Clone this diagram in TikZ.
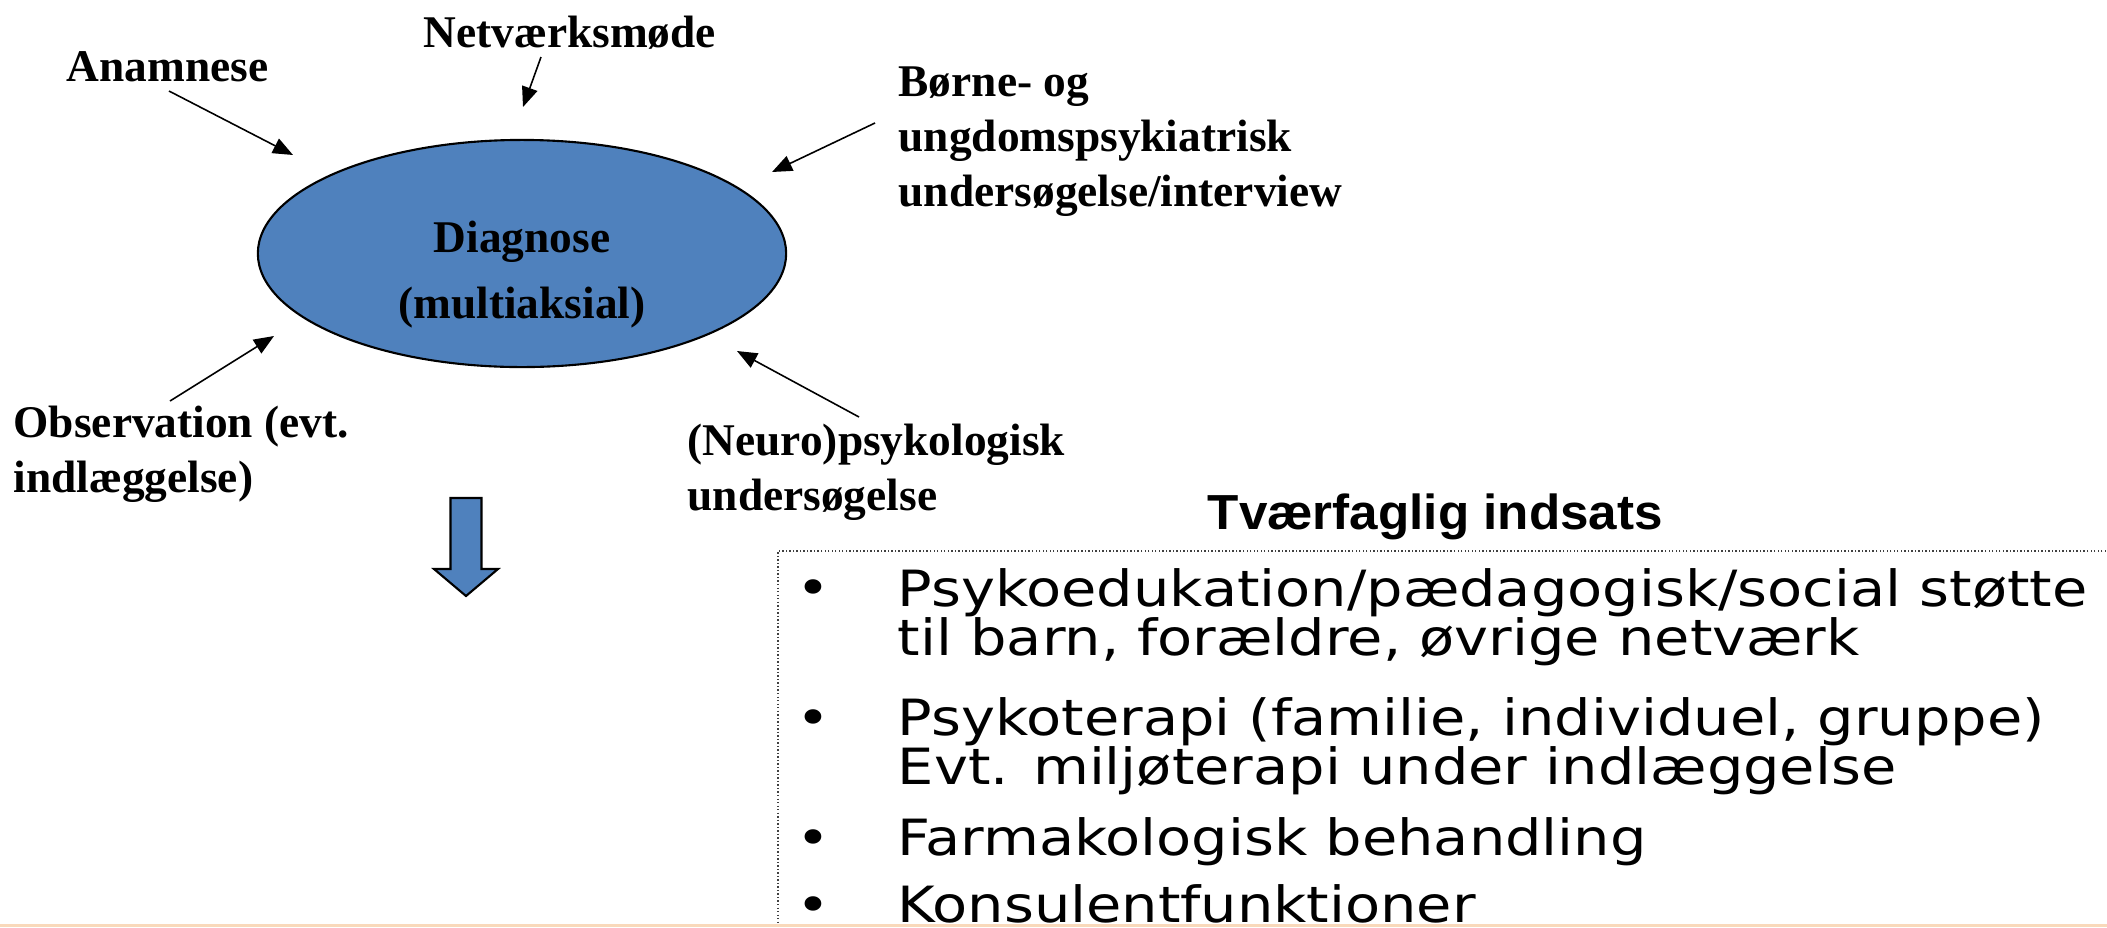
\documentclass[tikz,border=0pt]{standalone}
\usepackage{fontspec}
\setmainfont{Liberation Serif}
\newfontfamily\headfont[FakeStretch=1.04]{Liberation Sans}
\newfontfamily\listfont[FakeStretch=1.15]{DejaVu Sans}
\usetikzlibrary{arrows.meta,shapes.geometric}
\definecolor{DiagBlue}{HTML}{4F81BD}
\definecolor{Peach}{HTML}{F9D9BB}
\newcommand\listtype{\listfont\fontsize{14.2}{13.9}\selectfont\lineskiplimit=-20pt\relax}
\tikzset{
  lbl/.style={anchor=base west, inner sep=0pt, align=left,
              font=\bfseries\fontsize{12.9}{15.6}\selectfont},
  inarr/.style={-{Triangle[length=2mm,width=1.6mm]}, line width=0.45pt},
  listitem/.style={anchor=base west, inner sep=0pt, align=left, font=\listtype}
}
\begin{document}
\begin{tikzpicture}[x=0.01cm, y=-0.01cm,
  diagnode/.style={draw=black, line width=0.6pt, fill=DiagBlue, ellipse, inner sep=0pt,
                   minimum width=5.28cm, minimum height=2.27cm},
  diagtext/.style={anchor=base, inner sep=0pt, align=center,
                   font=\bfseries\fontsize{12.9}{18.5}\selectfont},
  blockarr/.style={draw=black, line width=0.6pt, fill=DiagBlue},
  head/.style={anchor=base west, inner sep=0pt, font=\headfont\bfseries\fontsize{14}{16}\selectfont},
  bul/.style={anchor=base, inner sep=0pt, font=\listfont\fontsize{14.2}{14}\selectfont},
  boxline/.style={draw=black!75, line width=0.4pt, dash pattern=on 0.4pt off 0.6pt}]
\useasboundingbox (0,0) rectangle (2107,927);
\clip (0,0) rectangle (2107,927);
% diagnose (base = last line)
\node[diagnode] (diag) at (522,253.5) {};
\node[diagtext] (diagtxt) at (522,318) {Diagnose\\(multiaksial)};
% kilder
\node[lbl] (anam) at (66,81) {Anamnese};
\node[lbl] (netv) at (423,47) {Netværksmøde};
\node[lbl] (boern) at (898,206) {Børne- og\\ungdomspsykiatrisk\\undersøgelse/interview};
\node[lbl] (obs) at (13,492) {Observation (evt.\\indlæggelse)};
\node[lbl] (neuro) at (687,510) {(Neuro)psykologisk\\undersøgelse};
\coordinate (anamS) at (169,91);
\coordinate (anamE) at (293,155);
\coordinate (netvS) at (541,57);
\coordinate (netvE) at (523,107);
\coordinate (boernS) at (875,123);
\coordinate (boernE) at (772,172);
\coordinate (obsS) at (170,401);
\coordinate (obsE) at (274,336);
\coordinate (neuroS) at (859,417);
\coordinate (neuroE) at (737,351);
\draw[inarr] (anamS) -- (anamE);
\draw[inarr] (netvS) -- (netvE);
\draw[inarr] (boernS) -- (boernE);
\draw[inarr] (obsS) -- (obsE);
\draw[inarr] (neuroS) -- (neuroE);
% pil ned
\draw[blockarr] (450.5,498) -- (481.5,498) -- (481.5,569) -- (498,569) -- (466,596)
  -- (434,569) -- (450.5,569) -- cycle;
% indsats
\node[head] (tvf) at (1207,529) {Tværfaglig indsats};
\draw[boxline] (2120,551) -| (778,940);
\node[bul] (b1) at (813,605) {•};
\node[listitem] (it1) at (897,655) {Psykoedukation/pædagogisk/social støtte\\til barn, forældre, øvrige netværk};
\node[bul] (b2) at (813,735) {•};
\node[listitem] (it2) at (897,784) {Psykoterapi (familie, individuel, gruppe)\\Evt. miljøterapi under indlæggelse};
\node[bul] (b3) at (813,855) {•};
\node[listitem] (it3) at (897,855) {Farmakologisk behandling};
\node[bul] (b4) at (813,922) {•};
\node[listitem] (it4) at (897,922) {Konsulentfunktioner};
\fill[Peach] (0,924) rectangle (2107,927);
\end{tikzpicture}
\end{document}
